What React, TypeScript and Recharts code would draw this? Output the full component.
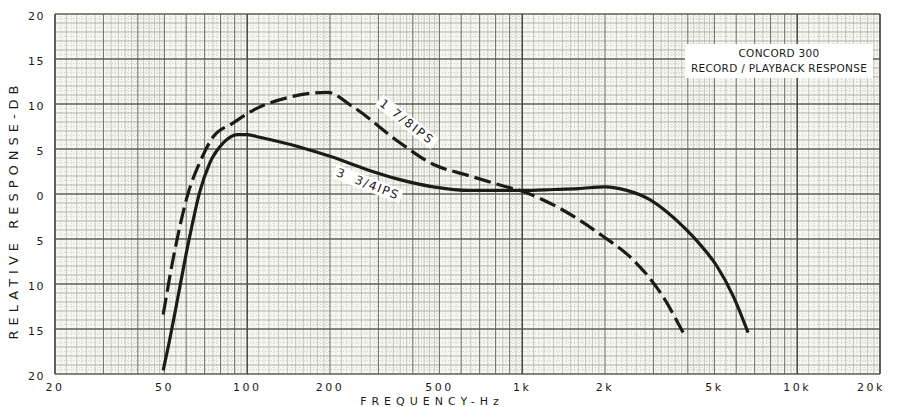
import React from 'react';
import { LineChart, Line, XAxis, YAxis, ReferenceLine, ReferenceArea } from 'recharts';

// ---- data ----
const xTicks = [20, 50, 100, 200, 500, 1000, 2000, 5000, 10000, 20000];
const xTickLabels = ['20', '50', '100', '200', '500', '1k', '2k', '5k', '10k', '20k'];
const yTicks = [-20, -15, -10, -5, 0, 5, 10, 15, 20];
const yTickLabels = ['20', '15', '10', '5', '0', '5', '10', '15', '20'];

// 3 3/4 IPS (solid)
const ips334Freq = [49.5, 52, 54.6, 57, 59.4, 63, 67, 73, 82, 92, 100, 111, 156, 204, 273, 359, 474, 650, 830, 1000, 1300, 1600, 2000, 2400, 2900, 3360, 3900, 4430, 5100, 5840, 6625];
const ips334Db = [-19.6, -16.5, -13.2, -10.2, -7.3, -3.5, 0.1, 3.4, 5.7, 6.6, 6.6, 6.3, 5.2, 4.1, 2.7, 1.6, 0.8, 0.4, 0.4, 0.4, 0.5, 0.6, 0.8, 0.4, -0.6, -2.0, -3.8, -5.6, -8.0, -11.3, -15.4];

// 1 7/8 IPS (dashed)
const ips178Freq = [49.5, 53.7, 57, 61, 67, 75, 89, 105, 140, 195, 242, 359, 474, 630, 830, 1000, 1372, 1967, 2529, 3250, 3846];
const ips178Db = [-13.4, -7.3, -3.5, 0.1, 3.4, 6.3, 7.9, 9.3, 10.7, 11.3, 9.7, 5.7, 3.3, 2.1, 1.0, 0.3, -1.6, -4.7, -7.3, -11.4, -15.4];

const ips334 = ips334Freq.map((f, i) => ({ f, db: ips334Db[i] }));
const ips178 = ips178Freq.map((f, i) => ({ f, db: ips178Db[i] }));

// ---- graph-paper grid values ----
const decades = [10, 100, 1000, 10000];
const inRange = (v: number) => v >= 20 && v <= 20000;
const round = (v: number) => Math.round(v * 1000) / 1000;
const vDecade: number[] = [];
const vMajor: number[] = [];
const vFine: number[] = [];
const vDot: number[] = [];
decades.forEach((d) => {
  vDecade.push(d);
  for (let m = 2; m <= 9; m++) vMajor.push(d * m);
  for (let k = 1; k < 10; k++) vFine.push(round(d * (1 + k * 0.1)));
  for (let k = 1; k < 15; k++) if (k % 5 !== 0) vFine.push(round(d * (2 + k * 0.2)));
  for (let k = 1; k < 10; k += 2) vFine.push(round(d * (5 + k * 0.5)));
  for (let k = 0; k < 10; k++) vDot.push(round(d * (1.05 + k * 0.1)));
  for (let k = 0; k < 15; k++) vDot.push(round(d * (2.1 + k * 0.2)));
  for (let k = 0; k < 10; k++) vDot.push(round(d * (5.25 + k * 0.5)));
});
const vDecadeIn = vDecade.filter(inRange);
const vMajorIn = vMajor.filter(inRange);
const vFineIn = vFine.filter(inRange);
const vDotIn = vDot.filter(inRange);

const hMajor: number[] = [];
const hMinor: number[] = [];
const hDot: number[] = [];
for (let v = -20; v <= 20; v++) {
  if (v % 5 === 0) hMajor.push(v);
  else hMinor.push(v);
  if (v < 20) hDot.push(v + 0.5);
}

const FONT = '"DejaVu Sans", sans-serif';
const INK = '#1b1b17';

const XTick = (props: any) => {
  const { x, y, payload, index } = props;
  const i = xTicks.indexOf(payload.value);
  const shift = i === xTicks.length - 1 ? -9 : 0;
  return (
    <text x={x + shift} y={y + 9} textAnchor="middle" fontFamily={FONT} fontSize={11} letterSpacing={2.5} fill={INK}>
      {xTickLabels[i >= 0 ? i : index]}
    </text>
  );
};

const YTick = (props: any) => {
  const { x, y, payload, index } = props;
  const i = yTicks.indexOf(payload.value);
  return (
    <text x={x - 2} y={y + 6} textAnchor="end" fontFamily={FONT} fontSize={11} letterSpacing={1.5} fill={INK}>
      {yTickLabels[i >= 0 ? i : index]}
    </text>
  );
};

export default function App() {
  return (
    <div style={{ position: 'absolute', left: 0, top: 0, width: 905, height: 407, background: '#fff', overflow: 'hidden' }}>
      <LineChart width={905} height={407} margin={{ top: 14, right: 25, left: 0, bottom: 0 }}>
        <XAxis
          dataKey="f"
          type="number"
          scale="log"
          domain={[20, 20000]}
          allowDataOverflow
          ticks={xTicks}
          tick={<XTick />}
          tickLine={false}
          axisLine={false}
          height={33}
        />
        <YAxis
          dataKey="db"
          type="number"
          domain={[-20, 20]}
          allowDataOverflow
          ticks={yTicks}
          tick={<YTick />}
          tickLine={false}
          axisLine={false}
          width={55}
        />
        <ReferenceArea x1={20} x2={20000} y1={-20} y2={20} fill="#f7f7f2" fillOpacity={1} stroke="none" />
        {vDotIn.map((v) => (
          <ReferenceLine key={'vd' + v} x={v} stroke="#b9b9b0" strokeWidth={0.7} strokeDasharray="1 2" />
        ))}
        {hDot.map((v) => (
          <ReferenceLine key={'hd' + v} y={v} stroke="#b9b9b0" strokeWidth={0.7} strokeDasharray="1 2" />
        ))}
        {vFineIn.map((v) => (
          <ReferenceLine key={'vf' + v} x={v} stroke="#b3b3a8" strokeWidth={0.7} />
        ))}
        {hMinor.map((v) => (
          <ReferenceLine key={'hm' + v} y={v} stroke="#a2a298" strokeWidth={0.8} />
        ))}
        {vMajorIn.map((v) => (
          <ReferenceLine key={'vM' + v} x={v} stroke="#77776b" strokeWidth={1.1} />
        ))}
        {hMajor.map((v) => (
          <ReferenceLine key={'hM' + v} y={v} stroke="#5e5e52" strokeWidth={1.4} />
        ))}
        {vDecadeIn.map((v) => (
          <ReferenceLine key={'vD' + v} x={v} stroke="#4d4d42" strokeWidth={1.6} />
        ))}
        <ReferenceLine x={20} stroke="#4d4d42" strokeWidth={1.6} />
        <ReferenceLine x={20000} stroke="#4d4d42" strokeWidth={1.6} />
        <Line
          data={ips178}
          dataKey="db"
          type="monotone"
          stroke={INK}
          strokeWidth={3.2}
          strokeDasharray="17 6"
          dot={false}
          isAnimationActive={false}
        />
        <Line
          data={ips334}
          dataKey="db"
          type="monotone"
          stroke={INK}
          strokeWidth={3.2}
          dot={false}
          isAnimationActive={false}
        />
      </LineChart>

      {/* title box */}
      <div
        style={{
          position: 'absolute', left: 685, top: 44, width: 188, height: 34, background: '#fff',
          fontFamily: FONT, fontSize: 10.5, color: INK, textAlign: 'center', lineHeight: '15px', letterSpacing: 0.3,
          paddingTop: 2, boxSizing: 'border-box',
        }}
      >
        <div>CONCORD 300</div>
        <div>RECORD / PLAYBACK RESPONSE</div>
      </div>

      {/* curve labels */}
      <div
        style={{
          position: 'absolute', left: 407, top: 122, transform: 'translate(-50%,-50%) rotate(38deg)',
          background: '#fff', fontFamily: FONT, fontSize: 12, color: INK, letterSpacing: 2, padding: '0 3px',
          whiteSpace: 'nowrap', lineHeight: '14px',
        }}
      >
        1 7/8IPS
      </div>
      <div
        style={{
          position: 'absolute', left: 368, top: 184, transform: 'translate(-50%,-50%) rotate(21deg)',
          background: '#fff', fontFamily: FONT, fontSize: 12, color: INK, letterSpacing: 1.5, padding: '0 3px',
          whiteSpace: 'nowrap', lineHeight: '14px',
        }}
      >
        3 &nbsp;3/4IPS
      </div>

      {/* axis titles */}
      <div
        style={{
          position: 'absolute', left: 14, top: 210, transform: 'translate(-50%,-50%) rotate(-90deg)',
          fontFamily: FONT, fontSize: 13, color: INK, letterSpacing: 5, whiteSpace: 'nowrap', lineHeight: '14px',
        }}
      >
        RELATIVE RESPONSE-DB
      </div>
      <div
        style={{
          position: 'absolute', left: 432, top: 396, transform: 'translateX(-50%)',
          fontFamily: FONT, fontSize: 11, color: INK, letterSpacing: 5, whiteSpace: 'nowrap', lineHeight: '11px',
        }}
      >
        FREQUENCY-Hz
      </div>
    </div>
  );
}
